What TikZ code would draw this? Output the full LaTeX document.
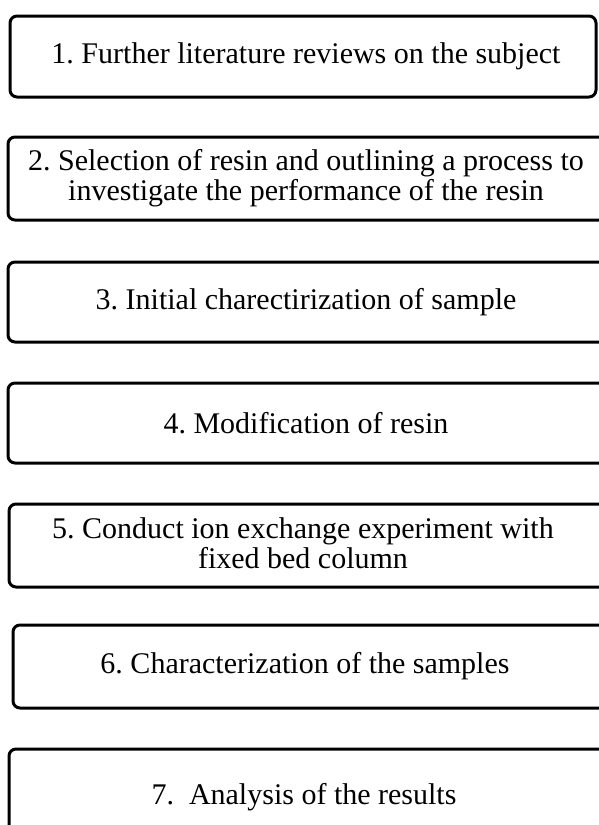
\documentclass[tikz,border=0pt]{standalone}
\usepackage{fontspec}
\setmainfont{Liberation Serif}
\frenchspacing
\begin{document}
\begin{tikzpicture}[x=1pt,y=-1pt,
  stepbox/.style={draw=black, line width=3pt, rounded corners=7pt, inner sep=0pt},
  steptext/.style={align=center, inner sep=0pt, font=\fontsize{30}{30}\selectfont, text=black}]
\useasboundingbox[fill=white] (0,0) rectangle (598,825);
\node[stepbox, minimum width=586pt, minimum height=81pt] (b1) at (303,56.5) {};
\node[stepbox, minimum width=612pt, minimum height=83pt] (b2) at (314,178.5) {};
\node[stepbox, minimum width=612pt, minimum height=80pt] (b3) at (314,302) {};
\node[stepbox, minimum width=612pt, minimum height=80pt] (b4) at (314,423) {};
\node[stepbox, minimum width=612pt, minimum height=83pt] (b5) at (315,545.5) {};
\node[stepbox, minimum width=608pt, minimum height=83pt] (b6) at (317,666.5) {};
\node[stepbox, minimum width=612pt, minimum height=96pt] (b7) at (315,797) {};
\node[steptext] (t1) at (306,56.5) {1. Further literature reviews on the subject};
\node[steptext] (t2) at (306,178.5) {2. Selection of resin and outlining a process to\\investigate the performance of the resin};
\node[steptext] (t3) at (306,302) {3. Initial charectirization of sample};
\node[steptext] (t4) at (306,423) {4. Modification of resin};
\node[steptext] (t5) at (303,543) {5. Conduct ion exchange experiment with\\fixed bed column};
\node[steptext] (t6) at (305,666.5) {6. Characterization of the samples};
\node[steptext] (t7) at (304,797) {7.\ \ Analysis of the results};
\end{tikzpicture}
\end{document}
